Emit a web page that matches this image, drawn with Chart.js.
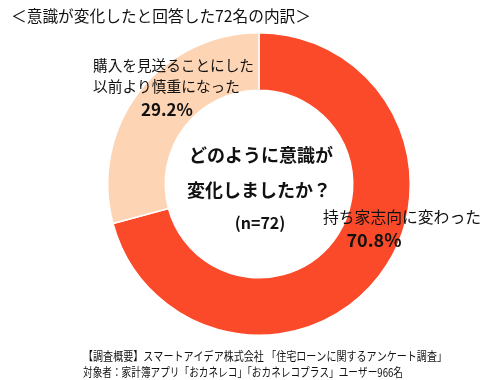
<!DOCTYPE html>
<html>
<head>
<meta charset="utf-8">
<script src="https://cdn.jsdelivr.net/npm/chart.js@4/dist/chart.umd.min.js"></script>
<style>
html,body{margin:0;padding:0;background:#fff;}
#c{display:block;}
</style>
</head>
<body>
<canvas id="c" width="490" height="380"></canvas>
<script>
const categories = ["持ち家志向に変わった", "購入を見送ることにした以前より慎重になった"];
const values = [70.8, 29.2];
const colors = ["#FB4A2A", "#FDD4B4"];
const titleText = "＜意識が変化したと回答した72名の内訳＞";
const centerLines = ["どのように意識が", "変化しましたか？", "(n=72)"];
const footerLines = [
  "【調査概要】スマートアイデア株式会社 「住宅ローンに関するアンケート調査」",
  "対象者：家計簿アプリ「おカネレコ」「おカネレコプラス」ユーザー966名"
];

const FONT = '"Noto Sans CJK JP", "Noto Sans", sans-serif';

const textPlugin = {
  id: 'texts',
  afterDraw(chart) {
    const ctx = chart.ctx;
    ctx.save();
    ctx.fillStyle = '#111';
    ctx.textBaseline = 'middle';
    // title
    ctx.textAlign = 'left';
    ctx.font = '16px ' + FONT;
    ctx.fillText(titleText, 11, 16, 300);
    // center
    const meta = chart.getDatasetMeta(0);
    const arc = meta.data[0];
    const cx = arc.x, cy = arc.y;
    ctx.textAlign = 'center';
    ctx.font = 'bold 18px ' + FONT;
    ctx.fillText(centerLines[0], cx + 2, cy - 29, 150);
    ctx.fillText(centerLines[1], cx, cy + 6, 150);
    ctx.font = 'bold 16px ' + FONT;
    ctx.fillText(centerLines[2], cx + 1, cy + 39);
    // label for peach
    ctx.textAlign = 'left';
    ctx.font = '15px ' + FONT;
    ctx.fillText("購入を見送ることにした", 93, 65, 161);
    ctx.fillText("以前より慎重になった", 93, 86, 147);
    ctx.textAlign = 'center';
    ctx.font = 'bold 17px ' + FONT;
    ctx.fillText(values[1].toFixed(1) + "%", 167, 110);
    // label for red
    ctx.textAlign = 'left';
    ctx.font = '16px ' + FONT;
    ctx.fillText(categories[0], 323, 217, 158);
    ctx.textAlign = 'center';
    ctx.font = 'bold 18px ' + FONT;
    ctx.fillText(values[0].toFixed(1) + "%", 374, 240);
    // footer
    ctx.textAlign = 'left';
    ctx.font = '12px ' + FONT;
    ctx.fillText(footerLines[0], 83, 356, 364);
    ctx.fillText(footerLines[1], 83, 372, 320);
    ctx.restore();
  }
};

new Chart(document.getElementById('c'), {
  type: 'doughnut',
  data: {
    labels: categories,
    datasets: [{
      data: values,
      backgroundColor: colors,
      borderColor: '#ffffff',
      borderWidth: 1.5,
      hoverOffset: 0
    }]
  },
  options: {
    responsive: false,
    animation: false,
    cutout: '62%',
    rotation: 0,
    layout: { padding: { left: 107, right: 79, top: 32, bottom: 44 } },
    plugins: {
      legend: { display: false },
      tooltip: { enabled: false },
      title: { display: false }
    }
  },
  plugins: [textPlugin]
});
</script>
</body>
</html>
